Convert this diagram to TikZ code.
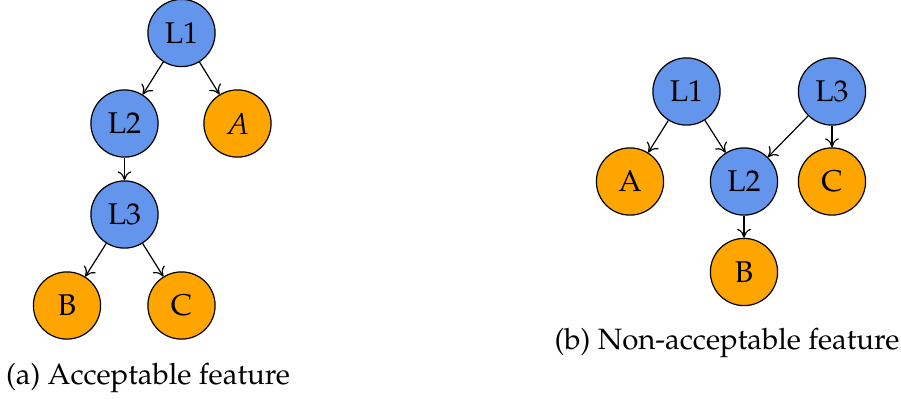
\documentclass[tikz,border=0pt]{standalone}
\usepackage[T1]{fontenc}
\usepackage{mathpazo}
\usetikzlibrary{arrows.meta}
\definecolor{latentblue}{RGB}{100,149,237}
\definecolor{obsorange}{RGB}{255,165,0}
\tikzset{
  latent/.style={circle, draw=black, line width=0.4pt, fill=latentblue, minimum size=22.4pt, inner sep=0pt, font=\fontsize{10}{12}\selectfont},
  observed/.style={circle, draw=black, line width=0.4pt, fill=obsorange, minimum size=22.4pt, inner sep=0pt, font=\fontsize{10}{12}\selectfont},
  edge/.style={-{To[length=3pt,width=4.6pt]}, line width=0.4pt},
  caption/.style={font=\fontsize{9.8}{12}\selectfont, inner sep=0pt}
}
\begin{document}
\begin{tikzpicture}[x=0.3333pt, y=-0.3333pt]
\useasboundingbox (0,0) rectangle (901,403);
% left: acceptable structure
\node[latent]   (aL1) at (181.5,33)    {L1};
\node[latent]   (aL2) at (124.5,123.5) {L2};
\node[observed] (aA)  at (237.5,123.5) {$A$};
\node[latent]   (aL3) at (124.5,214.5) {L3};
\node[observed] (aB)  at (67,305.5)    {B};
\node[observed] (aC)  at (181.5,305.5) {C};
\draw[edge] (aL1) -- (aL2);
\draw[edge] (aL1) -- (aA);
\draw[edge] (aL2) -- (aL3);
\draw[edge] (aL3) -- (aB);
\draw[edge] (aL3) -- (aC);
\node[caption] (capa) at (148,378) {(a) Acceptable feature};
% right: non-acceptable structure
\node[latent]   (bL1) at (686.5,91.5) {L1};
\node[latent]   (bL3) at (832,91.5)   {L3};
\node[observed] (bA)  at (630,181.5)  {A};
\node[latent]   (bL2) at (744,181.5)  {L2};
\node[observed] (bC)  at (832,181.5)  {C};
\node[observed] (bB)  at (744,272)    {B};
\draw[edge] (bL1) -- (bA);
\draw[edge] (bL1) -- (bL2);
\draw[edge] (bL3) -- (bL2);
\draw[edge] (bL3) -- (bC);
\draw[edge] (bL2) -- (bB);
\node[caption] (capb) at (727,343) {(b) Non-acceptable feature};
\end{tikzpicture}
\end{document}
